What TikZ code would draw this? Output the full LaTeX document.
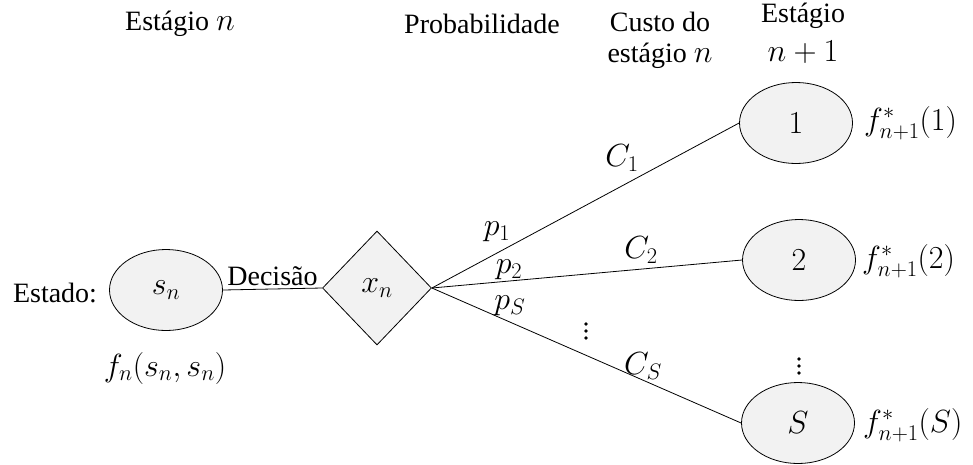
\RequirePackage{fix-cm}
\documentclass[tikz,border=0pt]{standalone}
\usepackage{fontspec}
\setmainfont{Liberation Serif}
\usetikzlibrary{shapes.geometric}
\definecolor{shapegray}{HTML}{F2F2F2}
\newcommand{\mymath}[1]{{\fontsize{32}{36}\selectfont$#1$}}
\begin{document}
\begin{tikzpicture}[x=1pt,y=-1pt,
  font=\fontsize{28}{32}\selectfont,
  every node/.style={inner sep=0pt},
  stateshape/.style={ellipse, draw, fill=shapegray, line width=0.8pt,
    minimum width=113pt, minimum height=81pt},
  decshape/.style={diamond, draw, fill=shapegray, line width=0.8pt,
    minimum width=109pt, minimum height=114pt},
  conn/.style={draw, line width=0.8pt},
  dotsstyle/.style={fill=black}]
\useasboundingbox (0,0) rectangle (973,464);

% headers
\node (h1) at (180,24) {Estágio \mymath{n}};
\node (h2) at (482,24) {Probabilidade};
\node (h3a) at (660,22) {Custo do};
\node (h3b) at (660,56) {estágio \mymath{n}};
\node (h4a) at (803,16) {Estágio};
\node (h4b) at (803,52) {\mymath{n+1}};

% nodes
\node[stateshape] (sn) at (166,290) {\mymath{s_n}};
\node[decshape] (xn) at (377,288) {\mymath{x_n}};
\node[stateshape] (e1) at (796,123) {\mymath{1}};
\node[stateshape] (e2) at (799,260) {\mymath{2}};
\node[stateshape] (eS) at (798,423) {\mymath{S}};

% labels
\node (estado) at (55,293) {Estado:};
\node (fn) at (165,368) {\mymath{f_n(s_n,s_n)}};
\node[anchor=west] (f1) at (864,123) {\mymath{f^*_{n+1}(1)}};
\node[anchor=west] (f2) at (862,261) {\mymath{f^*_{n+1}(2)}};
\node[anchor=west] (fS) at (863,425) {\mymath{f^*_{n+1}(S)}};

% connectors
\draw[conn] (sn.east) -- node[above=3pt] (dec) {Decisão} (xn.west);
\draw[conn] (xn.east) -- (e1.west);
\draw[conn] (xn.east) -- (e2.west);
\draw[conn] (xn.east) -- (eS.west);

% edge labels
\node (p1) at (497,232) {\mymath{p_1}};
\node (p2) at (509,270) {\mymath{p_2}};
\node (pS) at (510,306) {\mymath{p_S}};
\node (c1) at (622,158) {\mymath{C_1}};
\node (c2) at (641,250) {\mymath{C_2}};
\node (cS) at (643,366) {\mymath{C_S}};

% vertical dots
\foreach \yy in {324,331,338} \fill[dotsstyle] (586,\yy) circle (1.8);
\foreach \yy in {359,366,373} \fill[dotsstyle] (799,\yy) circle (1.8);
\end{tikzpicture}
\end{document}
